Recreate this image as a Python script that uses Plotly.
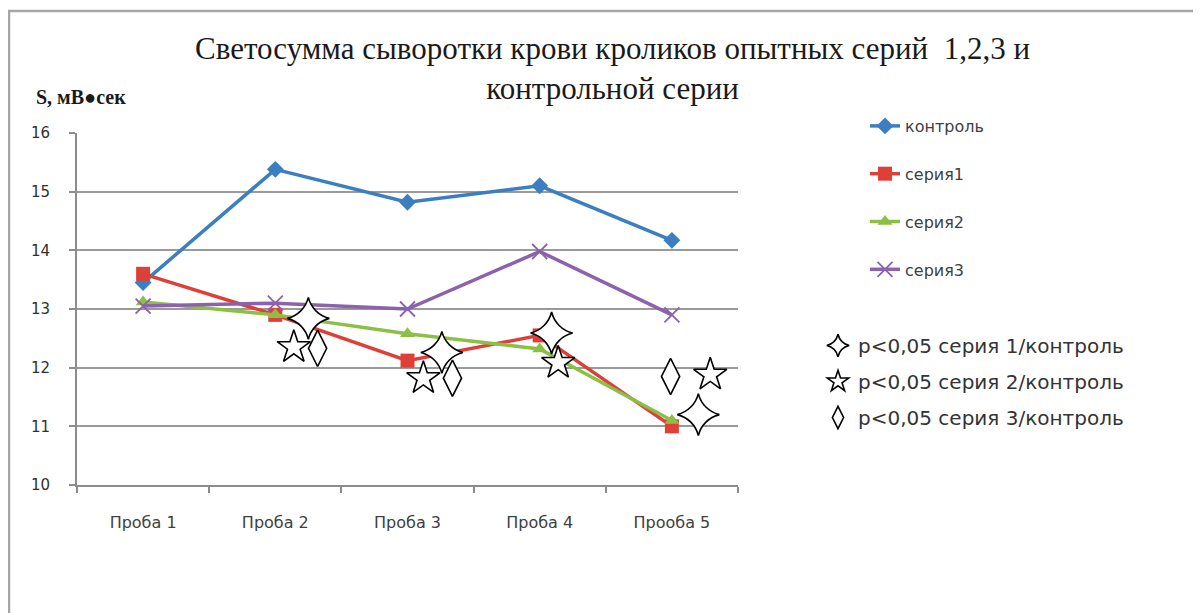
import plotly.graph_objects as go

categories = ["Проба 1", "Проба 2", "Проба 3", "Проба 4", "Прооба 5"]
control = [13.45, 15.38, 14.82, 15.10, 14.17]
series1 = [13.60, 12.90, 12.12, 12.55, 11.00]
series2 = [13.12, 12.90, 12.58, 12.32, 11.10]
series3 = [13.05, 13.10, 13.00, 13.98, 12.90]

series_names = ["контроль", "серия1", "серия2", "серия3"]

# significance marks: category index, horizontal offset (in category units), value
sig1_cat = [1, 2, 3, 4]
sig1_dx = [0.25, 0.26, 0.09, 0.20]
sig1_y = [12.84, 12.26, 12.59, 11.20]

sig2_cat = [1, 2, 3, 4]
sig2_dx = [0.14, 0.12, 0.14, 0.29]
sig2_y = [12.35, 11.82, 12.08, 11.88]

sig3_cat = [1, 2, 4]
sig3_dx = [0.32, 0.34, -0.01]
sig3_y = [12.33, 11.82, 11.85]

sig_names = ["p<0,05 серия 1/контроль", "p<0,05 серия 2/контроль", "p<0,05 серия 3/контроль"]

x_idx = list(range(len(categories)))

fig = go.Figure()

styles = [
    dict(color="#3b7fc1", symbol="diamond", size=13, lw=3.5),
    dict(color="#de4038", symbol="square", size=14, lw=3.5),
    dict(color="#8cc044", symbol="triangle-up", size=13, lw=3.5),
    dict(color="#8b62ab", symbol="x-thin", size=15, lw=3.5),
]
for i, (name, vals, st) in enumerate(zip(series_names, [control, series1, series2, series3], styles)):
    marker = dict(symbol=st["symbol"], size=st["size"], color=st["color"])
    if st["symbol"] == "x-thin":
        marker["line"] = dict(color=st["color"], width=1.8)
    fig.add_trace(go.Scatter(
        x=x_idx, y=vals, name=name, mode="lines+markers",
        line=dict(color=st["color"], width=st["lw"]),
        marker=marker, legend="legend", legendgroup=f"g{i}",
    ))

sig_sets = [
    (sig1_cat, sig1_dx, sig1_y, "star-diamond", 30),
    (sig2_cat, sig2_dx, sig2_y, "star", 25),
    (sig3_cat, sig3_dx, sig3_y, "diamond-tall", 26),
]
for j, ((cats, dxs, ys, sym, sz), nm) in enumerate(zip(sig_sets, sig_names)):
    fig.add_trace(go.Scatter(
        x=[c + d for c, d in zip(cats, dxs)], y=ys, name=nm, mode="markers",
        marker=dict(symbol=sym, size=sz, color="white", line=dict(color="black", width=1.6)),
        legend="legend2", legendgroup=f"s{j}",
    ))

OFF = 8  # page body margin
L, R, T, B = 69, 471, 125, 136
W, H = 1201, 613
pw, ph = W - L - R, H - T - B

def px(xs):
    return (xs - OFF - L) / pw

def py(ys):
    return (H - B - (ys - OFF)) / ph

fig.update_layout(
    width=W, height=H,
    margin=dict(l=L, r=R, t=T, b=B),
    paper_bgcolor="white", plot_bgcolor="white",
    xaxis=dict(
        range=[-0.5, 4.5], tickmode="array", tickvals=x_idx, ticktext=categories,
        showgrid=False, zeroline=False, showline=True, linecolor="#8c8c8c", linewidth=2,
        ticks="", ticklabelstandoff=22,
        minor=dict(tick0=-0.5, dtick=1, ticks="outside", ticklen=6, tickcolor="#8c8c8c", tickwidth=2),
        tickfont=dict(family="DejaVu Sans", size=16, color="#404040"),
        fixedrange=True,
    ),
    yaxis=dict(
        range=[10, 16], dtick=1, showgrid=True, gridcolor="#9a9a9a", gridwidth=2,
        zeroline=False, showline=True, linecolor="#8c8c8c", linewidth=2,
        ticks="outside", ticklen=6, tickcolor="#8c8c8c", tickwidth=2, ticklabelstandoff=16,
        tickfont=dict(family="DejaVu Sans", size=15, color="#303030"),
        fixedrange=True,
    ),
    legend=dict(
        x=px(865), y=py(109), xanchor="left", yanchor="top",
        font=dict(family="DejaVu Sans", size=16, color="#404040"),
        tracegroupgap=24, traceorder="grouped", bgcolor="rgba(0,0,0,0)",
    ),
    legend2=dict(
        x=px(818), y=py(326), xanchor="left", yanchor="top",
        font=dict(family="DejaVu Sans", size=20, color="#333333"),
        tracegroupgap=7, traceorder="grouped", bgcolor="rgba(0,0,0,0)",
        itemsizing="trace",
    ),
    annotations=[
        dict(text="Светосумма сыворотки крови кроликов опытных серий  1,2,3 и<br>контрольной серии",
             x=px(612), y=py(69), xref="paper", yref="paper",
             xanchor="center", yanchor="middle", showarrow=False, align="center",
             font=dict(family="Liberation Serif", size=31, color="#1a1a1a")),
        dict(text="<b>S, мВ●сек</b>", x=px(34), y=py(97), xref="paper", yref="paper",
             xanchor="left", yanchor="middle", showarrow=False,
             font=dict(family="Liberation Serif", size=20, color="#1a1a1a")),
    ],
    shapes=[
        dict(type="path", xref="paper", yref="paper",
             path=f"M {px(9)},{py(650)} L {px(9)},{py(11)} L {px(1240)},{py(11)}",
             line=dict(color="#a6a6a6", width=2.5)),
    ],
)

fig.write_html("out.html")
